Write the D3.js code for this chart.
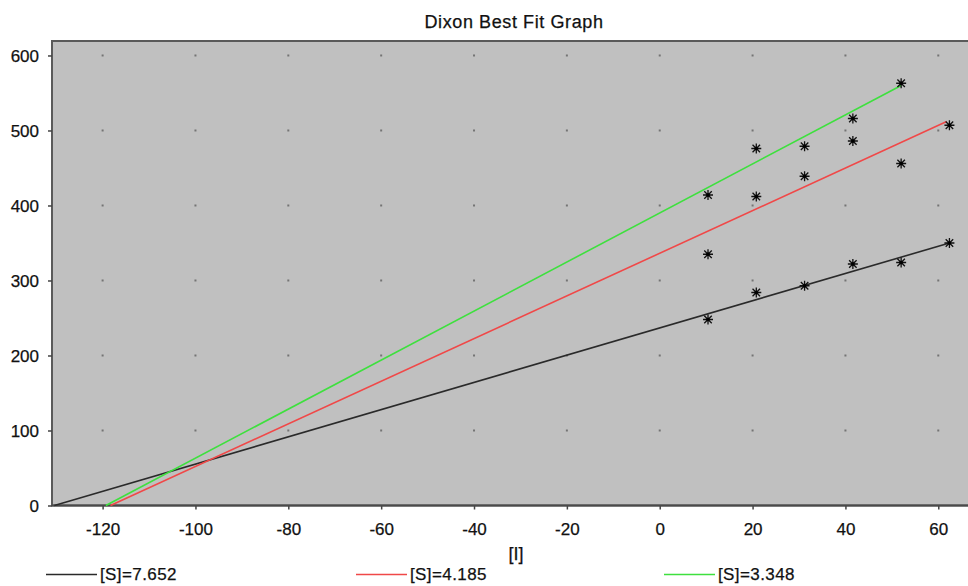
<!DOCTYPE html>
<html>
<head>
<meta charset="utf-8">
<script src="https://cdn.jsdelivr.net/npm/d3@7"></script>
<style>
  body { margin: 0; background: #fff; }
  text { font-family: "Liberation Sans", Arial, sans-serif; fill: #111; stroke: #111; stroke-width: 0.25px; }
</style>
</head>
<body>
<svg id="chart" width="968" height="586"></svg>
<script>
// inhibitor concentrations [I]
const conc = [10.4, 20.8, 31.2, 41.6, 52.0, 62.4];

// 1/v readings per substrate level
const pointsS1 = [248, 284, 293, 322, 324, 350];   // [S]=7.652
const pointsS2 = [335, 412, 439, 486, 456, 507];   // [S]=4.185
const pointsS3 = [414, 476, 479, 516, 563];        // [S]=3.348

// best fit lines, endpoints
const fitS1 = [[-130.4, 0], [62.4, 350]];
const fitS2 = [[-118.3, 0], [61.8, 512]];
const fitS3 = [[-119.3, 0], [52.0, 560]];

const seriesNames = ["[S]=7.652", "[S]=4.185", "[S]=3.348"];
const seriesColors = ["#2a2a2a", "#f04848", "#3ee03e"];

const xTicks = [-120, -100, -80, -60, -40, -20, 0, 20, 40, 60];
const yTicks = [0, 100, 200, 300, 400, 500, 600];

const svg = d3.select("#chart");
const plotL = 52, plotR = 968, plotT = 41, plotB = 505.5;

const x = d3.scaleLinear().domain([-130.9, 66.4]).range([plotL, plotR]);
const y = d3.scaleLinear().domain([0, 619.3]).range([plotB, plotT]);

// title
svg.append("text")
  .attr("x", 514).attr("y", 28)
  .attr("text-anchor", "middle")
  .style("font-size", "18px")
  .style("letter-spacing", "0.6px")
  .text("Dixon Best Fit Graph");

// plot background
svg.append("rect")
  .attr("x", plotL).attr("y", plotT)
  .attr("width", plotR - plotL + 5).attr("height", plotB - plotT)
  .attr("fill", "#c0c0c0")
  .attr("stroke", "#5a5a5a")
  .attr("stroke-width", 2);

// grid dots
const dots = [];
xTicks.forEach(tx => yTicks.filter(v => v > 0).forEach(ty => dots.push([tx, ty])));
svg.append("g").selectAll("rect").data(dots).enter()
  .append("rect")
  .attr("x", d => x(d[0]) - 1).attr("y", d => y(d[1]) - 1)
  .attr("width", 2).attr("height", 2)
  .attr("fill", "#747474");

// axes
const xAxis = svg.append("g")
  .attr("transform", `translate(0,${plotB})`)
  .call(d3.axisBottom(x).tickValues(xTicks).tickSize(4).tickPadding(13).tickFormat(d => String(d)));
const yAxis = svg.append("g")
  .attr("transform", `translate(${plotL},0)`)
  .call(d3.axisLeft(y).tickValues(yTicks).tickSize(4).tickPadding(9).tickFormat(d => String(d)));

[xAxis, yAxis].forEach(a => {
  a.select(".domain").remove();
  a.selectAll("line").attr("stroke", "#444").attr("stroke-width", 1.5);
  a.selectAll("text").style("font-size", "17px").attr("fill", "#111");
});
yAxis.selectAll("text").attr("dy", "0.35em");

// bottom axis line
svg.append("line")
  .attr("x1", plotL).attr("x2", plotR + 5)
  .attr("y1", plotB).attr("y2", plotB)
  .attr("stroke", "#4a4a4a").attr("stroke-width", 2);

// x label
svg.append("text")
  .attr("x", 516).attr("y", 560)
  .attr("text-anchor", "middle")
  .style("font-size", "18px")
  .text("[I]");

// fit lines
const fits = [fitS1, fitS2, fitS3];
const line = d3.line().x(d => x(d[0])).y(d => y(d[1]));
svg.append("g").selectAll("path").data(fits).enter()
  .append("path")
  .attr("d", d => line(d))
  .attr("fill", "none")
  .attr("stroke", (d, i) => seriesColors[i])
  .attr("stroke-width", 1.6);

// star markers
const allPts = [];
[pointsS1, pointsS2, pointsS3].forEach(arr => arr.forEach((v, i) => allPts.push([conc[i], v])));
const r = 5;
const star = `M0,${-r}V${r}M${-r},0H${r}M${-r * 0.75},${-r * 0.75}L${r * 0.75},${r * 0.75}M${-r * 0.75},${r * 0.75}L${r * 0.75},${-r * 0.75}`;
const marks = svg.append("g").selectAll("g").data(allPts).enter()
  .append("g")
  .attr("transform", d => `translate(${x(d[0])},${y(d[1])})`);
marks.append("path")
  .attr("d", star)
  .attr("stroke", "#111").attr("stroke-width", 1.3).attr("fill", "none");
marks.append("circle").attr("r", 1.8).attr("fill", "#000");

// legend
const legendX = [46, 356, 664];
const legend = svg.append("g").selectAll("g").data(seriesNames).enter()
  .append("g")
  .attr("transform", (d, i) => `translate(${legendX[i]},574.5)`);
legend.append("line")
  .attr("x1", 0).attr("x2", 51)
  .attr("stroke", (d, i) => seriesColors[i]).attr("stroke-width", 1.6);
legend.append("text")
  .attr("x", 54).attr("dy", "0.35em")
  .style("font-size", "17px")
  .style("letter-spacing", "0.4px")
  .text(d => d);
</script>
</body>
</html>
